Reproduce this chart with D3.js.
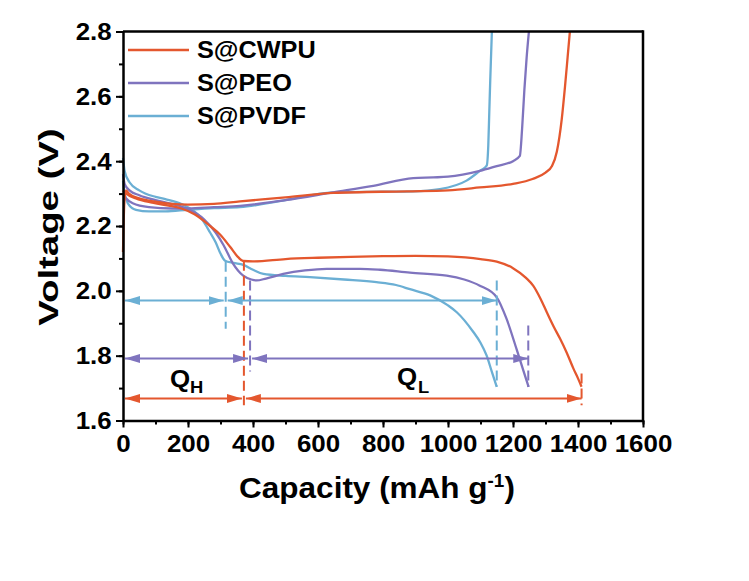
<!DOCTYPE html>
<html><head><meta charset="utf-8">
<script src="https://cdn.jsdelivr.net/npm/d3@7"></script>
<style>
html,body{margin:0;padding:0;background:#fff;}
svg{display:block;}
text{font-family:"Liberation Sans",Arial,sans-serif;font-weight:bold;fill:#000;}
</style></head>
<body>
<svg id="chart" width="749" height="581"></svg>
<script>
// ---------- DATA ----------
const seriesNames = ["S@CWPU", "S@PEO", "S@PVDF"];
const seriesColors = ["#E4572E", "#7F74BE", "#6BAFD4"];

// [capacity (mAh/g), voltage (V)]
const cwpuDischarge = [[0,2.31],[10,2.30],[40,2.285],[90,2.272],[140,2.263],[180,2.254],[220,2.236],[268,2.20],[300,2.172],[330,2.135],[355,2.103],[370,2.092],[400,2.091],[500,2.098],[600,2.102],[700,2.105],[800,2.107],[900,2.108],[1000,2.106],[1100,2.098],[1150,2.09],[1200,2.07],[1240,2.04],[1262,2.016],[1285,1.975],[1304,1.934],[1325,1.89],[1345,1.852],[1365,1.81],[1386,1.76],[1400,1.73],[1411,1.704]];
const cwpuCharge = [[0,2.12],[4,2.27],[9,2.31],[18,2.30],[50,2.285],[100,2.275],[150,2.268],[200,2.266],[280,2.268],[360,2.276],[500,2.288],[647,2.302],[873,2.307],[1000,2.31],[1098,2.319],[1200,2.33],[1260,2.345],[1300,2.365],[1320,2.385],[1335,2.43],[1350,2.53],[1360,2.63],[1368,2.72],[1375,2.8]];
const peoDischarge = [[0,2.36],[5,2.33],[20,2.31],[50,2.295],[100,2.28],[150,2.268],[200,2.252],[250,2.22],[285,2.18],[310,2.14],[338,2.085],[370,2.047],[395,2.035],[411,2.032],[440,2.038],[493,2.052],[560,2.063],[627,2.068],[729,2.068],[791,2.065],[883,2.056],[996,2.047],[1050,2.035],[1098,2.016],[1150,1.98],[1180,1.914],[1211,1.82],[1230,1.76],[1248,1.704]];
const peoCharge = [[0,2.30],[10,2.285],[30,2.27],[80,2.258],[150,2.254],[200,2.254],[280,2.258],[360,2.262],[500,2.28],[647,2.304],[770,2.324],[893,2.348],[955,2.35],[1000,2.352],[1098,2.37],[1150,2.385],[1200,2.40],[1221,2.416],[1228,2.50],[1235,2.62],[1242,2.72],[1249,2.8]];
const pvdfDischarge = [[0,2.41],[5,2.37],[20,2.335],[50,2.31],[100,2.29],[130,2.283],[180,2.268],[240,2.225],[268,2.18],[285,2.15],[300,2.115],[314,2.093],[340,2.086],[370,2.08],[400,2.065],[432,2.052],[500,2.046],[575,2.042],[680,2.035],[780,2.027],[840,2.018],[883,2.005],[945,1.986],[1000,1.955],[1027,1.934],[1078,1.873],[1100,1.84],[1119,1.80],[1135,1.75],[1150,1.704]];
const pvdfCharge = [[0,2.34],[5,2.30],[15,2.27],[40,2.25],[80,2.245],[130,2.245],[200,2.25],[280,2.255],[360,2.258],[500,2.28],[647,2.304],[800,2.306],[893,2.307],[975,2.314],[1057,2.34],[1098,2.37],[1119,2.386],[1124,2.45],[1127,2.55],[1130,2.65],[1133,2.74],[1135,2.8]];

// capacity split markers: [Q_H boundary, total capacity]
const qBoundaries = [[372, 1411], [391, 1247], [316, 1150]];   // CWPU, PEO, PVDF
const arrowLevels = [1.668, 1.791, 1.97];                       // V
// dashed markers: [capacity, top V, bottom V]
const dashCWPU = [[372, 2.093, 1.647], [1411, 1.745, 1.647]];
const dashPEO  = [[391, 2.032, 1.751], [1247, 1.893, 1.703]];
const dashPVDF = [[316, 2.09, 1.883], [1150, 2.032, 1.705]];

const xTicks = [0,200,400,600,800,1000,1200,1400,1600];
const yTicks = [1.6,1.8,2.0,2.2,2.4,2.6,2.8];
const xLabel = "Capacity (mAh g";
const yLabel = "Voltage (V)";

// ---------- CHART ----------
const svg = d3.select("#chart");
svg.append("rect").attr("width",749).attr("height",581).attr("fill","#fff");

const x = d3.scaleLinear().domain([0,1600]).range([123,643]);
const y = d3.scaleLinear().domain([1.6,2.8]).range([420.5,31.5]);

const line = d3.line().x(d=>x(d[0])).y(d=>y(d[1])).curve(d3.curveMonotoneX);

const curves = [
  {d: cwpuDischarge, c: 0}, {d: cwpuCharge, c: 0},
  {d: peoDischarge, c: 1}, {d: peoCharge, c: 1},
  {d: pvdfDischarge, c: 2}, {d: pvdfCharge, c: 2}
];
const plot = svg.append("g");
// draw in order: cwpu first? match overlap: draw PVDF, PEO, CWPU
[4,5,2,3,0,1].forEach(i=>{
  plot.append("path").attr("d", line(curves[i].d)).attr("fill","none")
    .attr("stroke", seriesColors[curves[i].c]).attr("stroke-width",2.3)
    .attr("stroke-linejoin","round");
});

// arrow markers
const defs = svg.append("defs");
seriesColors.forEach((col,i)=>{
  defs.append("marker").attr("id","ah"+i).attr("markerUnits","userSpaceOnUse")
    .attr("viewBox","0 0 15 10").attr("refX",15).attr("refY",5)
    .attr("markerWidth",15).attr("markerHeight",10).attr("orient","auto-start-reverse")
    .append("path").attr("d","M0,0.5 L15,5 L0,9.5 Z").attr("fill",col);
});

// dashed lines
const dashes = [dashCWPU, dashPEO, dashPVDF];
dashes.forEach((arr,i)=>{
  arr.forEach(dd=>{
    plot.append("line").attr("x1",x(dd[0])).attr("x2",x(dd[0]))
      .attr("y1",y(dd[1])).attr("y2",y(dd[2]))
      .attr("stroke",seriesColors[i]).attr("stroke-width",2)
      .attr("stroke-dasharray","10,5");
  });
});

// arrows
qBoundaries.forEach((qb,i)=>{
  const yy = y(arrowLevels[i]);
  plot.append("line").attr("x1",x(0)+2).attr("x2",x(qb[0])-2).attr("y1",yy).attr("y2",yy)
    .attr("stroke",seriesColors[i]).attr("stroke-width",2)
    .attr("marker-start","url(#ah"+i+")").attr("marker-end","url(#ah"+i+")");
  plot.append("line").attr("x1",x(qb[0])+2).attr("x2",x(qb[1])).attr("y1",yy).attr("y2",yy)
    .attr("stroke",seriesColors[i]).attr("stroke-width",2)
    .attr("marker-start","url(#ah"+i+")").attr("marker-end","url(#ah"+i+")");
});

// Q labels
svg.append("text").attr("transform","translate(170,387) scale(1.08,1)").attr("font-size",24).text("Q");
svg.append("text").attr("transform","translate(190,393) scale(1.08,1)").attr("font-size",17).text("H");
svg.append("text").attr("transform","translate(397,385) scale(1.08,1)").attr("font-size",24).text("Q");
svg.append("text").attr("transform","translate(418,393) scale(1.08,1)").attr("font-size",17).text("L");

// axes
const xMinor = d3.axisBottom(x).tickValues(d3.range(0,1601,100)).tickSize(4).tickFormat("").tickSizeOuter(0);
const yMinor = d3.axisLeft(y).tickValues(d3.range(16,29,1).map(v=>v/10)).tickSize(4).tickFormat("").tickSizeOuter(0);
svg.append("g").attr("transform","translate(0,420.5)").call(xMinor)
  .call(g=>g.selectAll("line").attr("stroke","#000").attr("stroke-width",2))
  .call(g=>g.select(".domain").attr("stroke","#000").attr("stroke-width",2.5));
svg.append("g").attr("transform","translate(123,0)").call(yMinor)
  .call(g=>g.selectAll("line").attr("stroke","#000").attr("stroke-width",2))
  .call(g=>g.select(".domain").attr("stroke","#000").attr("stroke-width",2.5));

const xAxis = d3.axisBottom(x).tickValues(xTicks).tickSize(7).tickSizeOuter(0).tickFormat(d3.format("d"));
const yAxis = d3.axisLeft(y).tickValues(yTicks).tickSize(7).tickSizeOuter(0).tickFormat(d3.format(".1f"));
svg.append("g").attr("transform","translate(0,420.5)").call(xAxis)
  .call(g=>g.select(".domain").remove())
  .call(g=>g.selectAll("line").attr("stroke","#000").attr("stroke-width",2))
  .call(g=>g.selectAll("text").attr("font-family",null).attr("font-size",24)
        .attr("y",31.5).attr("dy",0).attr("fill","#000").attr("transform","scale(1.08,1)"));
svg.append("g").attr("transform","translate(123,0)").call(yAxis)
  .call(g=>g.select(".domain").remove())
  .call(g=>g.selectAll("line").attr("stroke","#000").attr("stroke-width",2))
  .call(g=>g.selectAll("text").attr("font-family",null).attr("font-size",24)
        .attr("x",-10.5).attr("dy","0.33em").attr("fill","#000").attr("transform","scale(1.08,1)"));

// frame top/right
svg.append("line").attr("x1",x(0)).attr("x2",x(1600)).attr("y1",y(2.8)).attr("y2",y(2.8))
  .attr("stroke","#000").attr("stroke-width",2.5);
svg.append("line").attr("x1",x(1600)).attr("x2",x(1600)).attr("y1",y(2.8)-1.25).attr("y2",y(1.6)+1.25)
  .attr("stroke","#000").attr("stroke-width",2.5);

// legend
seriesNames.forEach((n,i)=>{
  const ly = 50 + i*33;
  svg.append("line").attr("x1",128).attr("x2",189).attr("y1",ly).attr("y2",ly)
    .attr("stroke",seriesColors[i]).attr("stroke-width",2.5);
  svg.append("text").attr("transform",`translate(197,${ly+8.3}) scale(1.1,1)`)
    .attr("font-size",23).text(n);
});

// axis titles
const xt = svg.append("text").attr("transform","translate(377,498) scale(1.05,1)")
  .attr("text-anchor","middle").attr("font-size",30);
xt.append("tspan").text(xLabel);
xt.append("tspan").attr("font-size",18).attr("dy",-11).text("-1");
xt.append("tspan").attr("dy",11).text(")");

svg.append("text").attr("transform","translate(58,227) rotate(-90) scale(1.37,1)")
  .attr("text-anchor","middle").attr("font-size",28).text(yLabel);
</script>
</body></html>
